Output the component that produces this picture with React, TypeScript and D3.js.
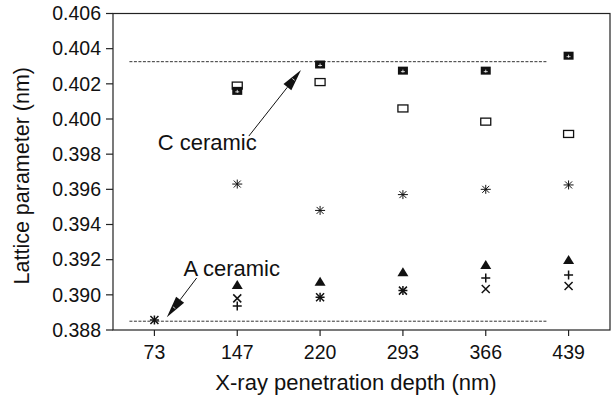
import React from "react";
import * as d3 from "d3";

// X-ray penetration depths (nm) used as categories
const depths = ["73", "147", "220", "293", "366", "439"];

// Lattice parameter (nm) for each marker series; null = no measurement
const filledSquare = [null, 0.4016, 0.4031, 0.40275, 0.40275, 0.4036];
const openSquare = [null, 0.4019, 0.4021, 0.4006, 0.39985, 0.39915];
const asterisk = [null, 0.3963, 0.3948, 0.3957, 0.3960, 0.39625];
const filledTriangle = [null, 0.39056, 0.39075, 0.39128, 0.3917, 0.39198];
const crossMark = [0.38857, 0.3898, 0.38986, 0.39024, 0.39033, 0.3905];
const plusMark = [0.38857, 0.38937, 0.38986, 0.39024, 0.39096, 0.39113];

// Reference lattice parameters of the two ceramics
const refLines = [0.40326, 0.3885];

const yTicks = [0.388, 0.39, 0.392, 0.394, 0.396, 0.398, 0.4, 0.402, 0.404, 0.406];

const W = 613;
const H = 399;
const left = 113;
const right = 610;
const top = 13.5;
const bottom = 330;
const FONT = "'Liberation Sans', Arial, Helvetica, sans-serif";

const x = d3.scaleBand<string>().domain(depths).range([left, right]).padding(0);
const bw = x.bandwidth();
const xc = (d: string) => (x(d) as number) + bw / 2;
// fractional category position (0 = first category centre)
const xf = (i: number) => left + bw * (i + 0.5);
const y = d3.scaleLinear().domain([0.388, 0.406]).range([bottom, top]);

type Shape = "filledSquare" | "openSquare" | "asterisk" | "triangle" | "cross" | "plus";

function Marker({ cx, cy, shape }: { cx: number; cy: number; shape: Shape }) {
  const s = "#111";
  switch (shape) {
    case "filledSquare":
      return (
        <g>
          <rect x={cx - 5} y={cy - 4} width={10} height={8} fill="#111" />
          <path d={`M${cx - 2},${cy + 1}h4M${cx},${cy - 1}v3`} stroke="#fff" strokeWidth={0.8} />
        </g>
      );
    case "openSquare":
      return <rect x={cx - 5} y={cy - 3.5} width={10} height={7} fill="#fff" stroke={s} strokeWidth={1.3} />;
    case "asterisk":
      return (
        <path
          d={`M${cx - 5},${cy}h10M${cx},${cy - 4.5}v9M${cx - 3.5},${cy - 3.5}l7,7M${cx - 3.5},${cy + 3.5}l7,-7`}
          stroke={s}
          strokeWidth={1}
        />
      );
    case "triangle":
      return <path d={`M${cx},${cy - 5}L${cx + 5.5},${cy + 4}L${cx - 5.5},${cy + 4}Z`} fill="#111" />;
    case "cross":
      return <path d={`M${cx - 4},${cy - 4}l8,8M${cx - 4},${cy + 4}l8,-8`} stroke={s} strokeWidth={1.5} />;
    case "plus":
      return <path d={`M${cx - 4.5},${cy}h9M${cx},${cy - 4.5}v9`} stroke={s} strokeWidth={1.5} />;
  }
}

const series: { values: (number | null)[]; shape: Shape }[] = [
  { values: openSquare, shape: "openSquare" },
  { values: filledSquare, shape: "filledSquare" },
  { values: asterisk, shape: "asterisk" },
  { values: filledTriangle, shape: "triangle" },
  { values: plusMark, shape: "plus" },
  { values: crossMark, shape: "cross" },
];

// Annotation arrows: label anchor, line start and arrow tip (category index, value)
const annotations = [
  { text: "C ceramic", lx: 0.04, lv: 0.39824, sx: 1.14, sv: 0.39903, tx: 1.77, tv: 0.40279 },
  { text: "A ceramic", lx: 0.35, lv: 0.39107, sx: 0.51, sv: 0.39096, tx: 0.15, tv: 0.38872 },
];

function Arrow({ x1, y1, x2, y2 }: { x1: number; y1: number; x2: number; y2: number }) {
  const ang = Math.atan2(y2 - y1, x2 - x1);
  const len = 22;
  const hw = 5;
  const bx = x2 - len * Math.cos(ang);
  const by = y2 - len * Math.sin(ang);
  const px = -Math.sin(ang) * hw;
  const py = Math.cos(ang) * hw;
  const mx = x2 - len * 0.55 * Math.cos(ang);
  const my = y2 - len * 0.55 * Math.sin(ang);
  return (
    <g>
      <line x1={x1} y1={y1} x2={bx} y2={by} stroke="#111" strokeWidth={1} />
      <path d={`M${x2},${y2}L${bx + px},${by + py}L${bx - px},${by - py}Z`} fill="#111" />
      <line
        x1={mx + px * 0.3}
        y1={my + py * 0.3}
        x2={mx - px * 0.3}
        y2={my - py * 0.3}
        stroke="#fff"
        strokeWidth={0.8}
      />
    </g>
  );
}

export default function App() {
  const refX1 = xc(depths[0]) - 25;
  const refX2 = xc(depths[depths.length - 1]) - 21;
  return (
    <svg width={W} height={H} style={{ position: "absolute", left: 0, top: 0, background: "#fff" }}>
      <rect width={W} height={H} fill="#fff" />
      {/* plot frame */}
      <rect x={left} y={top} width={right - left} height={bottom - top} fill="none" stroke="#222" strokeWidth={1.2} />

      {/* y axis ticks and labels */}
      {yTicks.map((t) => (
        <g key={t}>
          <line x1={left - 7} x2={left} y1={y(t)} y2={y(t)} stroke="#222" strokeWidth={1.2} />
          <text
            x={left - 12}
            y={y(t)}
            dy="0.35em"
            textAnchor="end"
            fontFamily={FONT}
            fontSize={19.5}
            fill="#111"
          >
            {d3.format(".3f")(t)}
          </text>
        </g>
      ))}

      {/* x axis ticks and labels */}
      {depths.map((d) => (
        <g key={d}>
          <line x1={xc(d)} x2={xc(d)} y1={bottom} y2={bottom + 6} stroke="#222" strokeWidth={1.2} />
          <text x={xc(d)} y={bottom + 29} textAnchor="middle" fontFamily={FONT} fontSize={19.5} fill="#111">
            {d}
          </text>
        </g>
      ))}

      {/* axis titles */}
      <text x={356} y={390} textAnchor="middle" fontFamily={FONT} fontSize={22} fill="#111">
        X-ray penetration depth (nm)
      </text>
      <text
        transform={`translate(29,${(top + bottom) / 2 + 4}) rotate(-90)`}
        textAnchor="middle"
        fontFamily={FONT}
        fontSize={21.5}
        fill="#111"
      >
        Lattice parameter (nm)
      </text>

      {/* reference lines */}
      {refLines.map((v) => (
        <line key={v} x1={refX1} x2={refX2} y1={y(v)} y2={y(v)} stroke="#333" strokeWidth={1} strokeDasharray="3,1.5" />
      ))}

      {/* data markers */}
      {series.map((s, si) =>
        s.values.map((v, i) =>
          v == null ? null : <Marker key={`${si}-${i}`} cx={xc(depths[i])} cy={y(v)} shape={s.shape} />
        )
      )}

      {/* annotations */}
      {annotations.map((a) => (
        <g key={a.text}>
          <Arrow x1={xf(a.sx)} y1={y(a.sv)} x2={xf(a.tx)} y2={y(a.tv)} />
          <text x={xf(a.lx)} y={y(a.lv)} fontFamily={FONT} fontSize={22} fill="#111">
            {a.text}
          </text>
        </g>
      ))}
    </svg>
  );
}
